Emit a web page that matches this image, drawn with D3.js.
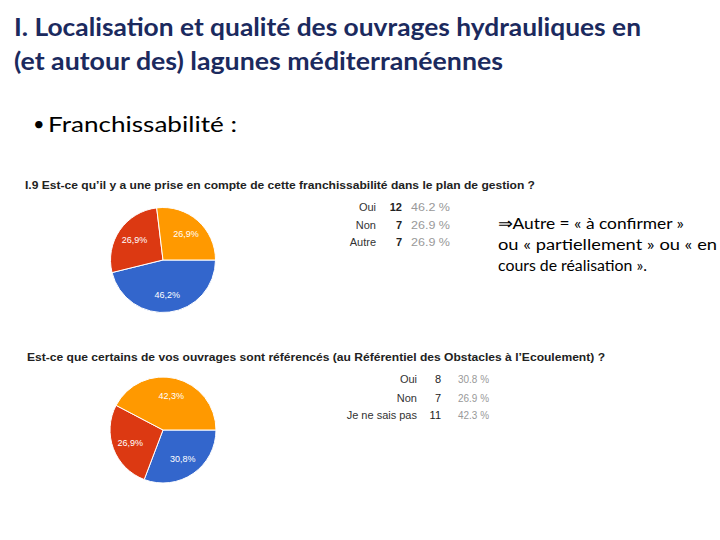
<!DOCTYPE html>
<html>
<head>
<meta charset="utf-8">
<script src="https://cdn.jsdelivr.net/npm/d3@7"></script>
<style>
  html, body { margin: 0; padding: 0; background: #fff; }
  svg { display: block; }
</style>
</head>
<body>
<svg id="chart" width="720" height="540"></svg>
<script>
// ---- data ----
const slideTitle = ["I. Localisation et qualité des ouvrages hydrauliques en",
                    "(et autour des) lagunes méditerranéennes"];
const bulletText = "Franchissabilité :";
const q1Title = "I.9 Est-ce qu’il y a une prise en compte de cette franchissabilité dans le plan de gestion ?";
const q1Labels = ["Oui", "Non", "Autre"];
const q1Counts = [12, 7, 7];
const q1Pct = [46.2, 26.9, 26.9];
const q2Title = "Est-ce que certains de vos ouvrages sont référencés (au Référentiel des Obstacles à l’Ecoulement) ?";
const q2Labels = ["Oui", "Non", "Je ne sais pas"];
const q2Counts = [8, 7, 11];
const q2Pct = [30.8, 26.9, 42.3];
const noteLines = ["⇒Autre  = « à confirmer »",
                   "ou « partiellement » ou « en",
                   "cours de réalisation »."];
const sliceColors = ["#3366cc", "#dc3912", "#ff9900"];

// ---- drawing ----
const svg = d3.select("#chart");

function fitText(sel, w) {
  sel.attr("textLength", w).attr("lengthAdjust", "spacingAndGlyphs");
  return sel;
}

// slide title
const titleFont = "Lato, 'Open Sans', sans-serif";
fitText(svg.append("text").attr("x", 14).attr("y", 36)
  .attr("font-family", titleFont).attr("font-weight", "bold").attr("font-size", 24)
  .attr("fill", "#1b2a5e").text(slideTitle[0]), 627);
fitText(svg.append("text").attr("x", 14).attr("y", 70)
  .attr("font-family", titleFont).attr("font-weight", "bold").attr("font-size", 24)
  .attr("fill", "#1b2a5e").text(slideTitle[1]), 489);

// bullet
svg.append("text").attr("x", 33).attr("y", 131)
  .attr("font-family", titleFont).attr("font-size", 20).attr("fill", "#000").text("•");
fitText(svg.append("text").attr("x", 48).attr("y", 132)
  .attr("font-family", titleFont).attr("font-size", 22).attr("fill", "#000").text(bulletText), 189);

// annotation
const noteWidths = [186, 219, 149];
const noteY = [229, 250, 271];
noteLines.forEach((t, i) => {
  fitText(svg.append("text").attr("x", 498).attr("y", noteY[i])
    .attr("font-family", titleFont).attr("font-size", 15.5).attr("fill", "#000").text(t), noteWidths[i]);
});

const chartFont = "'Liberation Sans', Arial, sans-serif";

function drawQuestion(cfg) {
  const g = svg.append("g");
  fitText(g.append("text").attr("x", cfg.titleX).attr("y", cfg.titleY)
    .attr("font-family", chartFont).attr("font-weight", "bold").attr("font-size", 11.5)
    .attr("fill", "#222").text(cfg.title), cfg.titleW);

  const pie = d3.pie().sort(null).value(d => d)
    .startAngle(Math.PI / 2).endAngle(Math.PI / 2 + 2 * Math.PI);
  const arcs = pie(cfg.counts);
  const arc = d3.arc().innerRadius(0).outerRadius(cfg.r);
  const labelArc = d3.arc().innerRadius(cfg.r * 0.66).outerRadius(cfg.r * 0.66);
  const pg = g.append("g").attr("transform", `translate(${cfg.cx},${cfg.cy})`);
  pg.selectAll("path").data(arcs).join("path")
    .attr("d", arc)
    .attr("fill", (d, i) => sliceColors[i])
    .attr("stroke", "#fff").attr("stroke-width", 1);
  pg.selectAll("text").data(arcs).join("text")
    .attr("transform", d => `translate(${labelArc.centroid(d)})`)
    .attr("text-anchor", "middle").attr("dy", "0.35em")
    .attr("font-family", chartFont).attr("font-size", 9).attr("fill", "#fff")
    .text((d, i) => cfg.pct[i].toFixed(1).replace(".", ",") + "%");

  // legend table
  const rows = g.selectAll("g.row").data(cfg.labels).join("g")
    .attr("transform", (d, i) => `translate(0,${cfg.legY[i]})`);
  rows.append("text").attr("x", cfg.labelRight).attr("text-anchor", "end")
    .attr("font-family", chartFont).attr("font-size", 11).attr("fill", "#333")
    .text(d => d);
  rows.append("text").attr("x", cfg.countRight).attr("text-anchor", "end")
    .attr("font-family", chartFont).attr("font-size", 11)
    .attr("font-weight", cfg.boldCount ? "bold" : "normal").attr("fill", "#222")
    .text((d, i) => cfg.counts[i]);
  rows.append("text").attr("x", cfg.pctLeft)
    .attr("font-family", chartFont).attr("font-size", 11).attr("fill", "#999")
    .attr("textLength", cfg.pctW).attr("lengthAdjust", "spacingAndGlyphs")
    .text((d, i) => cfg.pct[i].toFixed(1) + " %");
}

drawQuestion({
  title: q1Title, titleX: 25, titleY: 189, titleW: 510,
  labels: q1Labels, counts: q1Counts, pct: q1Pct,
  cx: 163, cy: 260, r: 52.5,
  legY: [211, 228.5, 246], labelRight: 376, countRight: 402, pctLeft: 411, pctW: 39, boldCount: true
});
drawQuestion({
  title: q2Title, titleX: 27, titleY: 361, titleW: 578,
  labels: q2Labels, counts: q2Counts, pct: q2Pct,
  cx: 163, cy: 430, r: 53,
  legY: [383, 401.5, 419], labelRight: 417, countRight: 441, pctLeft: 458, pctW: 31, boldCount: false
});
</script>
</body>
</html>
